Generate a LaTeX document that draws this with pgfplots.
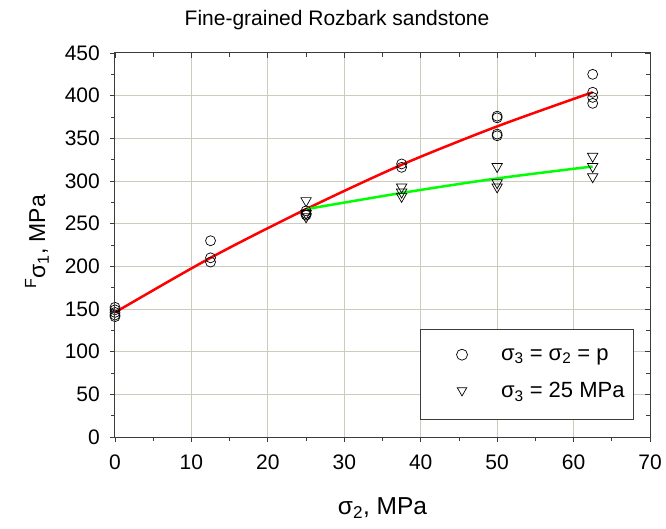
\documentclass[border=0pt]{standalone}
\usepackage{pgfplots}
\pgfplotsset{compat=1.18}
\usepackage{fontspec}
\setmainfont{Liberation Sans}
\definecolor{gridc}{RGB}{204,204,188}
\definecolor{axc}{RGB}{60,60,60}
\begin{document}
\fontsize{21}{25}\selectfont
\begin{tikzpicture}
\begin{axis}[
  name=ax,
  scale only axis,
  clip mode=individual,
  width=535pt, height=384pt,
  xmin=0, xmax=70, ymin=0, ymax=450,
  xtick={0,10,...,70}, ytick={0,50,...,450},
  minor x tick num=1, minor y tick num=1,
  xtick pos=left, ytick pos=left,
  tick align=outside,
  major tick length=5pt, minor tick length=4pt,
  tick style={axc, line width=0.8pt},
  axis line style={axc, line width=1pt},
  grid=major,
  major grid style={gridc, line width=1pt},
  /pgf/number format/assume math mode=true,
  ticklabel style={font=\fontsize{21}{25}\selectfont},
  xticklabel style={yshift=-6pt},
  yticklabel style={xshift=-3pt},
  legend style={at={(axis description cs:0.970,0.044)}, anchor=south east,
    draw=axc, line width=0.8pt, font=\fontsize{22}{26}\selectfont,
    inner xsep=4pt, inner ysep=17pt, row sep=15pt,
    nodes={inner xsep=5pt}},
  legend cell align=left,
  legend image code/.code={\path[draw=none,fill=none] (-38pt,-5pt) rectangle (34pt,5pt); \draw[#1, mark size=5.5pt] plot coordinates {(0pt,1pt)};},
]
\addplot[red, line width=2.5pt, smooth, forget plot] coordinates {
(0,146) (12.5,210) (25,267) (37.5,319) (50,364) (62.5,404)};
\addplot[green, line width=2.5pt, smooth, forget plot] coordinates {
(25,267) (37.5,286) (50,303) (62.5,317)};
\addplot[only marks, mark=o, mark size=5pt, black, mark options={line width=0.7pt}] coordinates {
(0,152) (0,149) (0,146) (0,143) (0,141)
(12.5,230) (12.5,210) (12.5,205)
(25,265) (25,262) (25,260)
(37.5,320) (37.5,316)
(50,376) (50,374) (50,355) (50,353)
(62.5,425) (62.5,404) (62.5,398) (62.5,391)};
\addlegendentry{σ\textsubscript{3} = σ\textsubscript{2} = p}
\addplot[only marks, mark=triangle, mark size=6pt, black, mark options={rotate=180, line width=0.7pt}] coordinates {
(25,277) (25,262) (25,258)
(37.5,293) (37.5,287) (37.5,282)
(50,317) (50,298) (50,293)
(62.5,329) (62.5,317) (62.5,305)};
\addlegendentry{σ\textsubscript{3} = 25 MPa}
\node[font=\fontsize{21}{25}\selectfont] at (axis description cs:0.415,1.086) {Fine-grained Rozbark sandstone};
\node[font=\fontsize{24.5}{28}\selectfont] at (axis description cs:0.5,-0.185) {σ\textsubscript{2}, MPa};
\node[font=\fontsize{23}{27}\selectfont, rotate=90] at (axis description cs:-0.146,0.508) {\textsuperscript{F}σ\textsubscript{1}, MPa};
\end{axis}
\begin{axis}[
  scale only axis,
  width=535pt, height=384pt,
  xmin=0, xmax=70, ymin=0, ymax=450,
  xtick={0,10,...,70}, ytick={0,50,...,450},
  minor x tick num=1, minor y tick num=1,
  xtick pos=right, ytick pos=right,
  tick align=inside,
  major tick length=5pt, minor tick length=4pt,
  tick style={axc, line width=0.8pt},
  axis line style={axc, line width=1pt},
  xticklabels={}, yticklabels={},
]
\end{axis}
\pgfresetboundingbox
\path[use as bounding box] ([xshift=-115pt,yshift=-91pt]ax.south west) rectangle ([xshift=16pt,yshift=53pt]ax.north east);
\end{tikzpicture}
\end{document}
